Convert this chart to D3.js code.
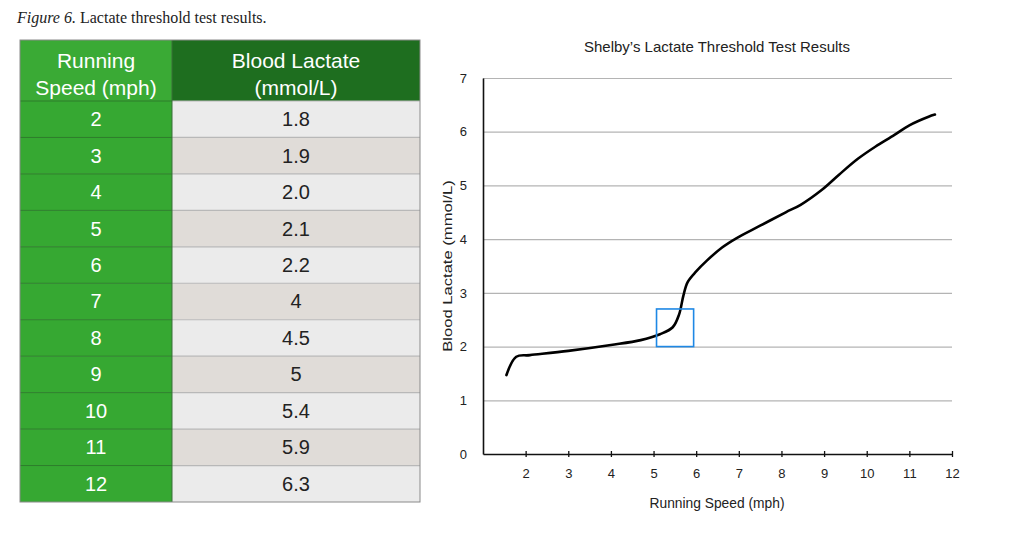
<!DOCTYPE html>
<html lang="en">
<head>
    <meta charset="UTF-8">
    <title>Lactate threshold test</title>
    <script src="https://d3js.org/d3.v7.min.js"></script>
    <style>
        body{
            margin: 0;
            background-color: white;
        }
        #canvas{
            display: block;
        }
        .cap{
            font-family: 'Liberation Serif', serif;
            font-size: 16px;
            fill: #222;
        }
        .cell{
            font-family: 'Liberation Sans', Arial, sans-serif;
            text-anchor: middle;
        }
        .chartText{
            font-family: 'Liberation Sans', Arial, sans-serif;
            fill: #222;
        }
    </style>
</head>
<body>
    <svg id='canvas' width='1031' height='541'></svg>
    <script>
        // table values
        let speeds = [2, 3, 4, 5, 6, 7, 8, 9, 10, 11, 12]
        let lactate = ['1.8', '1.9', '2.0', '2.1', '2.2', '4', '4.5', '5', '5.4', '5.9', '6.3']
        let headerCol1 = ['Running', 'Speed (mph)']
        let headerCol2 = ['Blood Lactate', '(mmol/L)']

        // hand drawn curve
        let traceSpeed   = [1.55, 1.78, 2.1, 3.0, 4.0, 4.7, 5.15, 5.45, 5.6, 5.7, 5.8, 6.0, 6.25, 6.6, 6.95, 7.5, 8.1, 8.45, 8.95, 9.35, 9.8, 10.2, 10.65, 11.0, 11.45, 11.6]
        let traceLactate = [1.47, 1.81, 1.84, 1.92, 2.03, 2.12, 2.23, 2.36, 2.6, 2.95, 3.2, 3.4, 3.6, 3.84, 4.02, 4.25, 4.5, 4.64, 4.92, 5.2, 5.5, 5.72, 5.94, 6.12, 6.28, 6.32]

        // highlighted region (box)
        let boxSpeed = [5.07, 5.94]
        let boxLactate = [2.0, 2.7]

        let xTicks = [2, 3, 4, 5, 6, 7, 8, 9, 10, 11, 12]
        let yTicks = [0, 1, 2, 3, 4, 5, 6, 7]

        let svg = d3.select('svg');

        // caption
        let cap = svg.append('text').attr('class', 'cap').attr('x', 17).attr('y', 23)
        cap.append('tspan').style('font-style', 'italic').text('Figure 6.')
        cap.append('tspan').text(' Lactate threshold test results.')

        // ---------- table ----------
        let tLeft = 20, tMid = 172, tRight = 420
        let headTop = 40, headBottom = 101, tBottom = 502
        let rowScale = d3.scaleBand().domain(speeds).range([headBottom, tBottom])

        let table = svg.append('g').attr('id', 'table')

        table.append('rect').attr('x', tLeft).attr('y', headTop)
            .attr('width', tMid - tLeft).attr('height', headBottom - headTop)
            .attr('fill', '#3aaa35')
        table.append('rect').attr('x', tMid).attr('y', headTop)
            .attr('width', tRight - tMid).attr('height', headBottom - headTop)
            .attr('fill', '#1e6e1f')

        table.selectAll('text.h1').data(headerCol1).enter().append('text')
            .attr('class', 'cell h1')
            .attr('x', (tLeft + tMid) / 2)
            .attr('y', (d, i) => 68 + i * 27)
            .attr('fill', 'white').style('font-size', '21px')
            .text(d => d)
        table.selectAll('text.h2').data(headerCol2).enter().append('text')
            .attr('class', 'cell h2')
            .attr('x', (tMid + tRight) / 2)
            .attr('y', (d, i) => 68 + i * 27)
            .attr('fill', 'white').style('font-size', '21px')
            .text(d => d)

        let rows = table.selectAll('g.row').data(speeds).enter().append('g')
            .attr('class', 'row')
            .attr('transform', d => 'translate(0,' + rowScale(d) + ')')

        rows.append('rect').attr('x', tLeft).attr('width', tMid - tLeft)
            .attr('height', rowScale.bandwidth()).attr('fill', '#36a832')
        rows.append('rect').attr('x', tMid).attr('width', tRight - tMid)
            .attr('height', rowScale.bandwidth())
            .attr('fill', (d, i) => i % 2 == 0 ? '#ebebeb' : '#e0dcd8')
        rows.append('line').attr('x1', tLeft).attr('x2', tMid).attr('y1', 0).attr('y2', 0)
            .attr('stroke', '#2c7d2a').attr('stroke-width', 1)
        rows.append('line').attr('x1', tMid).attr('x2', tRight).attr('y1', 0).attr('y2', 0)
            .attr('stroke', '#b8b8b8').attr('stroke-width', 1.2)
        rows.append('text').attr('class', 'cell')
            .attr('x', (tLeft + tMid) / 2).attr('y', rowScale.bandwidth() / 2 + 7)
            .attr('fill', 'white').style('font-size', '20px')
            .text(d => d)
        rows.append('text').attr('class', 'cell')
            .attr('x', (tMid + tRight) / 2).attr('y', rowScale.bandwidth() / 2 + 7)
            .attr('fill', '#222').style('font-size', '20px')
            .text((d, i) => lactate[i])

        // outline + column divider
        table.append('line').attr('x1', tMid).attr('x2', tMid).attr('y1', headTop).attr('y2', tBottom)
            .attr('stroke', '#3a6e3a').attr('stroke-width', 1)
        table.append('rect').attr('x', tLeft).attr('y', headTop)
            .attr('width', tRight - tLeft).attr('height', tBottom - headTop)
            .attr('fill', 'none').attr('stroke', '#8a8a8a').attr('stroke-width', 1)

        // ---------- chart ----------
        let x = d3.scaleLinear().domain([1, 12]).range([483, 952])
        let y = d3.scaleLinear().domain([0, 7]).range([454, 78])

        let chart = svg.append('g').attr('id', 'chart')

        // gridlines
        chart.append('g')
            .attr('transform', 'translate(' + x(1) + ',0)')
            .call(d3.axisLeft(y).tickValues(yTicks.slice(1)).tickSize(-(x(12) - x(1))).tickFormat(''))
            .call(g => g.select('.domain').remove())
            .call(g => g.selectAll('line').attr('stroke', '#b4b4b4').attr('stroke-width', 1.2))

        // y axis
        chart.append('g')
            .attr('transform', 'translate(' + x(1) + ',0)')
            .call(d3.axisLeft(y).tickValues(yTicks).tickSize(0).tickPadding(16).tickFormat(d3.format('d')))
            .call(g => g.select('.domain').attr('stroke', '#111').attr('stroke-width', 1.6))
            .call(g => g.selectAll('text').attr('class', 'chartText').style('font-size', '13px'))

        // x axis
        let xAxis = chart.append('g')
            .attr('transform', 'translate(0,' + y(0) + ')')
            .call(d3.axisBottom(x).tickValues(xTicks).tickSize(6).tickPadding(9).tickSizeOuter(0))
        xAxis.select('.domain').attr('stroke', '#111').attr('stroke-width', 1.6)
        xAxis.selectAll('.tick line').attr('stroke', '#111').attr('stroke-width', 1.3)
            .attr('y1', -3).attr('y2', 3)
        xAxis.selectAll('text').attr('class', 'chartText').style('font-size', '13px')

        // title & labels
        chart.append('text').attr('class', 'chartText')
            .attr('x', 717).attr('y', 52).attr('text-anchor', 'middle')
            .style('font-size', '15px')
            .text('Shelby\u2019s Lactate Threshold Test Results')
        chart.append('text').attr('class', 'chartText')
            .attr('x', 717).attr('y', 508).attr('text-anchor', 'middle')
            .style('font-size', '13.8px')
            .text('Running Speed (mph)')
        chart.append('text').attr('class', 'chartText')
            .attr('transform', 'translate(452,266) rotate(-90) scale(1.23,1)')
            .attr('text-anchor', 'middle')
            .style('font-size', '13.5px')
            .text('Blood Lactate (mmol/L)')

        // curve
        let trace = traceSpeed.map((s, i) => [s, traceLactate[i]])
        let line = d3.line().x(d => x(d[0])).y(d => y(d[1])).curve(d3.curveCatmullRom.alpha(0.5))
        chart.append('path').datum(trace)
            .attr('d', line)
            .attr('fill', 'none').attr('stroke', '#000')
            .attr('stroke-width', 2.6).attr('stroke-linecap', 'round').attr('stroke-linejoin', 'round')

        // threshold box
        chart.append('rect')
            .attr('x', x(boxSpeed[0])).attr('y', y(boxLactate[1]))
            .attr('width', x(boxSpeed[1]) - x(boxSpeed[0]))
            .attr('height', y(boxLactate[0]) - y(boxLactate[1]))
            .attr('fill', 'none').attr('stroke', '#1e88e5').attr('stroke-width', 1.6)
    </script>
</body>
</html>
